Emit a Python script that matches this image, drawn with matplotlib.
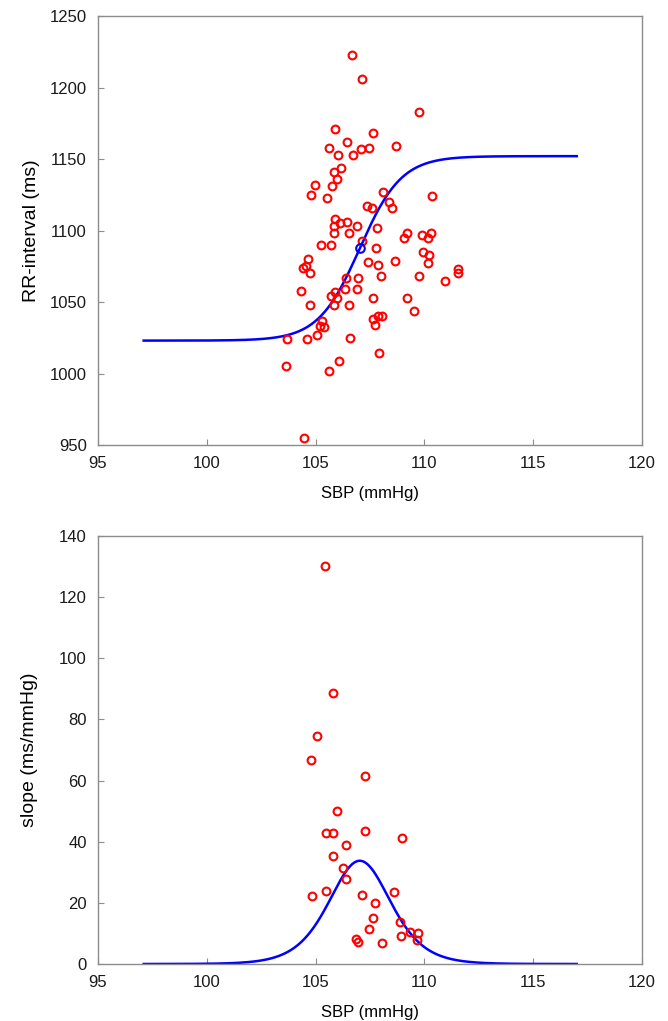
import numpy as np
import matplotlib
matplotlib.use("Agg")
import matplotlib.pyplot as plt

# ---- data ----
rr_sbp = [106.66, 107.13, 109.74, 105.89, 107.62, 106.46, 105.62, 107.10, 107.45, 108.68,
          106.05, 106.72, 106.15, 105.83, 105.98, 105.75, 104.99, 104.80, 105.52, 108.11,
          110.36, 108.39, 108.50, 107.38, 107.58, 105.91, 105.83, 106.12, 106.46, 106.89,
          107.82, 105.85, 106.55, 109.21, 109.89, 110.29, 107.13, 109.08, 110.18,
          105.23, 105.71, 107.78, 109.94, 110.23, 110.18, 108.63, 107.41, 107.85,
          104.65, 104.41, 104.56, 104.74, 106.42, 106.93, 108.02, 109.77, 110.95, 111.56,
          111.56, 104.34, 105.91, 106.37, 106.89, 105.71, 106.00, 107.65, 109.21, 104.73,
          105.85, 106.52, 109.54, 105.28, 105.20, 105.39, 107.64, 107.88, 108.07, 107.74,
          105.08, 106.58, 103.67, 104.62, 107.91, 106.09, 103.64, 105.63, 104.48]
rr_ms = [1223, 1206, 1183, 1171, 1168, 1162, 1158, 1157, 1158, 1159,
         1153, 1153, 1144, 1141, 1136, 1131, 1132, 1125, 1123, 1127,
         1124, 1120, 1116, 1117, 1116, 1108, 1103, 1105, 1106, 1103,
         1102, 1098, 1098, 1098.5, 1097, 1098.5, 1093, 1095, 1095,
         1090, 1090, 1088, 1085, 1083, 1077, 1079, 1078, 1076,
         1080, 1074, 1075, 1070, 1067, 1067, 1068, 1068, 1065, 1073,
         1070, 1058, 1057, 1059, 1059, 1054, 1053, 1053, 1053, 1048,
         1048, 1048, 1044, 1037, 1033, 1032.5, 1038, 1040, 1040, 1034,
         1027, 1025, 1024, 1024, 1014, 1009, 1005, 1002, 955]

slope_sbp = [105.43, 105.78, 105.05, 104.79, 107.27, 105.98, 105.46, 105.78, 107.27, 108.97,
             106.41, 105.78, 106.26, 106.40, 104.84, 105.47, 107.13, 108.62, 107.73, 107.62,
             107.44, 108.89, 108.92, 109.35, 109.69, 109.64, 106.87, 106.95, 108.07]
slope_val = [130.1, 88.8, 74.6, 66.6, 61.5, 50.2, 42.7, 42.7, 43.5, 41.3,
             38.8, 35.3, 31.3, 27.7, 22.4, 24.0, 22.5, 23.6, 19.8, 15.0,
             11.6, 13.6, 9.0, 10.5, 10.1, 7.9, 8.3, 7.1, 6.9]

# fitted logistic baroreflex curve parameters
fit_min = 1023.0
fit_max = 1152.0
fit_center = 107.03
fit_scale = 0.955
fit_range = (97.1, 117.0)

xticks = [95, 100, 105, 110, 115, 120]
rr_ticks = [950, 1000, 1050, 1100, 1150, 1200, 1250]
slope_ticks = [0, 20, 40, 60, 80, 100, 120, 140]

# ---- figure ----
plt.rcParams['font.family'] = ['Liberation Sans', 'DejaVu Sans']
W, H = 668, 1021
fig = plt.figure(figsize=(W / 100, H / 100), dpi=100)

def px_axes(l, t, r, b):
    return fig.add_axes([l / W, 1 - b / H, (r - l) / W, (b - t) / H])

ax1 = px_axes(98, 16, 642, 445)
ax2 = px_axes(98, 536, 642, 964)

xs = np.linspace(fit_range[0], fit_range[1], 400)
amp = fit_max - fit_min
z = np.exp(-(xs - fit_center) / fit_scale)
curve = fit_min + amp / (1 + z)
dcurve = amp / fit_scale * z / (1 + z) ** 2
center_y = fit_min + amp / 2

grey = '#8c8c8c'

for ax in (ax1, ax2):
    for s in ax.spines.values():
        s.set_color(grey)
        s.set_linewidth(1.0)
    ax.tick_params(direction='in', length=4, width=0.8, color=grey,
                   labelsize=12, labelcolor='#1a1a1a', pad=8,
                   top=False, right=False)
    ax.set_xlim(95, 120)
    ax.set_xticks(xticks)
    ax.set_xlabel('SBP (mmHg)', fontsize=12, labelpad=11)

ax1.plot(rr_sbp, rr_ms, 'o', ls='none', mfc='none', mec='#ff0000', ms=5.6, mew=1.5, zorder=3)
ax1.plot(xs, curve, color='#0000ff', lw=1.8, zorder=2)
ax1.plot([fit_center], [center_y], 'o', mfc='none', mec='#0000ff', ms=6.2, mew=1.5, zorder=4)
ax1.set_ylim(950, 1250)
ax1.set_yticks(rr_ticks)
ax1.set_ylabel('RR-interval (ms)', fontsize=14, labelpad=7)

ax2.plot(slope_sbp, slope_val, 'o', ls='none', mfc='none', mec='#ff0000', ms=5.6, mew=1.5, zorder=3)
ax2.plot(xs, dcurve, color='#0000ff', lw=1.8, zorder=2)
ax2.set_ylim(0, 140)
ax2.set_yticks(slope_ticks)
ax2.set_ylabel('slope (ms/mmHg)', fontsize=14, labelpad=15)

fig.savefig('out.png', dpi=100)
